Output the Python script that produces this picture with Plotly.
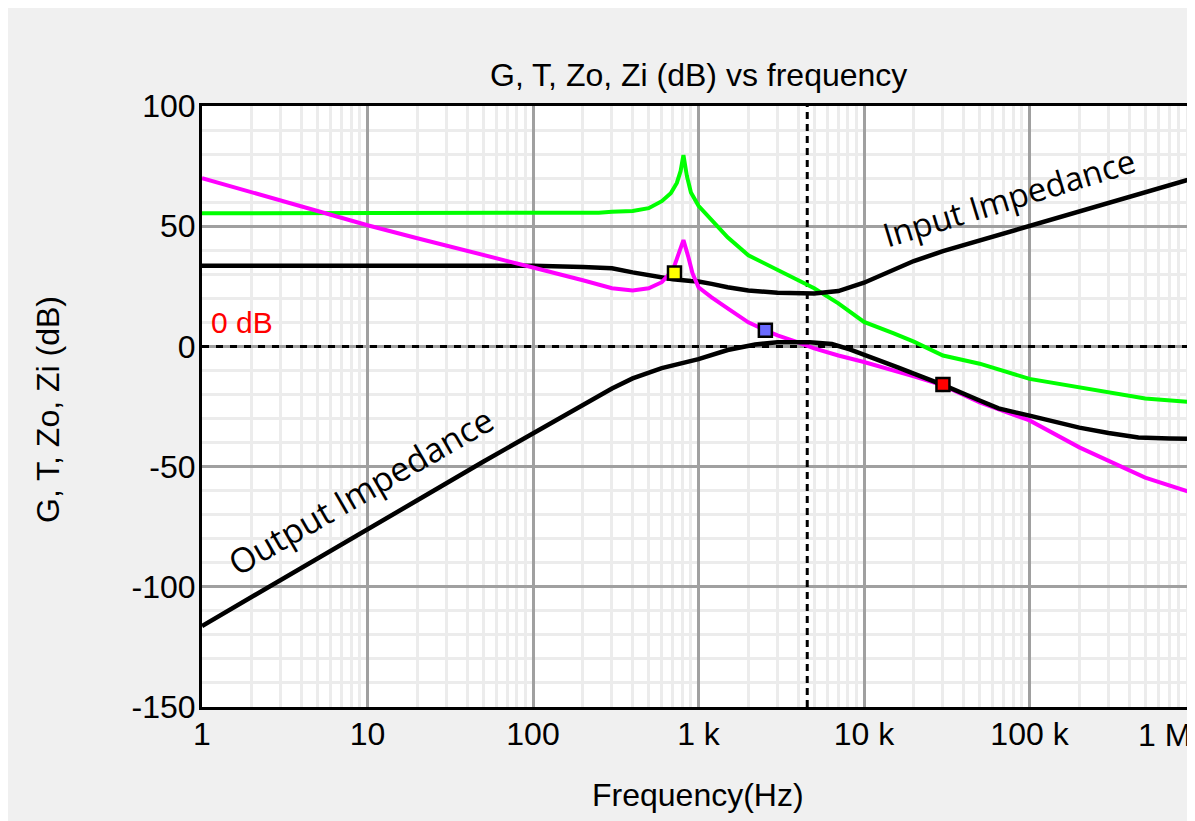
import plotly.graph_objects as go

# ---------------- data ----------------
freq_G = [1, 10, 100, 250, 300, 400, 500, 600, 680, 740, 780, 811, 850, 900, 1000,
          1500, 2000, 3000, 5000, 7000, 10e3, 15e3, 20e3, 30e3, 50e3, 100e3, 200e3,
          300e3, 500e3, 1e6]
db_G = [55.4, 55.4, 55.4, 55.6, 56.0, 56.3, 57.5, 60.4, 63.7, 68.0, 73.0, 79.6, 71.0,
        64.0, 58.5, 45.4, 37.9, 31.7, 24.2, 17.9, 10.2, 5.5, 2.0, -3.8, -7.2, -13.5,
        -17.0, -19.2, -21.7, -23.3]

freq_T = [1, 2, 3, 5, 10, 20, 30, 50, 100, 200, 300, 400, 500, 600, 700, 760, 811,
          870, 920, 1000, 1200, 1500, 2000, 2540, 3000, 4000, 5000, 7000, 10e3, 20e3,
          30e3, 50e3, 100e3, 200e3, 300e3, 500e3, 1e6]
db_T = [70.0, 64.0, 60.6, 56.0, 50.4, 45.0, 42.0, 38.0, 32.8, 27.5, 24.2, 23.3, 24.2,
        26.7, 31.7, 38.7, 44.2, 37.0, 30.4, 24.6, 20.4, 15.8, 10.0, 6.7, 4.6, 1.7,
        -0.8, -3.8, -6.5, -12.5, -16.2, -23.3, -30.8, -42.0, -47.5, -54.6, -61.3]

freq_Zi = [1, 10, 100, 200, 300, 400, 500, 600, 700, 900, 1000, 1200, 1500, 2000, 3000,
           5000, 7000, 10e3, 15e3, 20e3, 30e3, 50e3, 100e3, 200e3, 300e3, 500e3, 1e6]
db_Zi = [33.5, 33.5, 33.5, 33.0, 32.5, 30.8, 29.6, 28.3, 27.9, 27.2, 27.0, 26.0, 24.6,
         23.3, 22.3, 22.0, 23.0, 26.5, 32.0, 35.5, 39.6, 44.1, 50.1, 56.1, 59.7, 64.1,
         70.1]

freq_Zo = [1, 2, 5, 10, 20, 50, 100, 200, 300, 400, 600, 1000, 1500, 2200, 3000, 4700,
           6400, 8200, 10e3, 16e3, 20e3, 30e3, 50e3, 65e3, 100e3, 200e3, 300e3, 455e3,
           700e3, 1e6]
db_Zo = [-116.3, -104.3, -88.3, -76.0, -64.0, -48.0, -36.0, -24.0, -17.5, -13.3, -9.0,
         -5.3, -1.5, 0.8, 1.7, 1.7, 1.0, -1.2, -3.3, -8.7, -11.3, -16.0, -22.5, -25.8,
         -28.8, -33.8, -36.0, -37.9, -38.3, -38.5]

marker_freq = [716, 2535, 30000]
marker_db = [30.5, 6.7, -15.8]
marker_colors = ["#ffff00", "#6a6aff", "#ff0000"]

cursor_freq = 4540
ref_db = 0

x_tickvals = [1, 10, 100, 1e3, 1e4, 1e5, 1e6]
x_ticktext = ["1", "10", "100", "1 k", "10 k", "100 k", ""]
x_last_label = "1 M"          # drawn separately so it stays inside the page
x_minor = [m * 10 ** d for d in range(6) for m in range(2, 10)]
y_tickvals = [-150, -100, -50, 0, 50, 100]
y_ticktext = ["-150", "-100", "-50", "0", "50", "100"]

# ---------------- figure ----------------
OFF = 8                      # page body margin
W, H = 1195 - OFF, 821 - OFF
L, R, T, B = 202 - OFF, 0, 106 - OFF, 821 - 707
pw, ph = W - L - R, H - T - B

PIX = "Liberation Sans"

fig = go.Figure()

# reference lines (0 dB and cursor)
fig.add_trace(go.Scatter(x=[1, 1e6], y=[ref_db, ref_db], mode="lines",
                         line=dict(color="black", width=3, dash="7px,7px"),
                         hoverinfo="skip", showlegend=False))
fig.add_trace(go.Scatter(x=[cursor_freq, cursor_freq], y=[-150, 100], mode="lines",
                         line=dict(color="black", width=3, dash="7px,5px"),
                         hoverinfo="skip", showlegend=False))

fig.add_trace(go.Scatter(x=freq_G, y=db_G, mode="lines", name="G",
                         line=dict(color="#00ff00", width=4)))
fig.add_trace(go.Scatter(x=freq_Zi, y=db_Zi, mode="lines", name="Zi",
                         line=dict(color="#000000", width=4.5)))
fig.add_trace(go.Scatter(x=freq_T, y=db_T, mode="lines", name="T",
                         line=dict(color="#ff00ff", width=4)))
fig.add_trace(go.Scatter(x=freq_Zo, y=db_Zo, mode="lines", name="Zo",
                         line=dict(color="#000000", width=4.5)))

fig.add_trace(go.Scatter(x=marker_freq, y=marker_db, mode="markers",
                         marker=dict(symbol="square", size=13, color=marker_colors,
                                     line=dict(color="black", width=2.5)),
                         showlegend=False))

fig.update_xaxes(
    type="log", range=[0, 6], automargin=False,
    tickmode="array", tickvals=x_tickvals, ticktext=x_ticktext,
    ticks="", ticklabelstandoff=-3, ticklabeloverflow="allow",
    tickfont=dict(family=PIX, size=32, color="black"),
    showgrid=True, gridcolor="#a0a0a0", gridwidth=2.5,
    minor=dict(tickmode="array", tickvals=x_minor, showgrid=True,
               gridcolor="#ececec", gridwidth=2.5, ticks=""),
    showline=True, linecolor="black", linewidth=3, mirror=True,
    zeroline=False, fixedrange=True,
)
fig.update_yaxes(
    range=[-150, 100], automargin=False,
    tickmode="array", tickvals=y_tickvals, ticktext=y_ticktext,
    ticks="", ticklabelstandoff=-3, ticklabeloverflow="allow",
    tickfont=dict(family=PIX, size=32, color="black"),
    showgrid=True, gridcolor="#a0a0a0", gridwidth=2.5,
    minor=dict(dtick=10, showgrid=True, gridcolor="#ececec", gridwidth=2.5, ticks=""),
    showline=True, linecolor="black", linewidth=3, mirror=False,
    zeroline=False, fixedrange=True,
)

def px_x(p):  # window pixel -> paper x
    return (p - OFF - L) / pw

def px_y(p):  # window pixel -> paper y
    return (H - B - (p - OFF)) / ph

annotations = [
    dict(text="G, T, Zo, Zi (dB) vs frequency", xref="paper", yref="paper",
         x=0.5, y=px_y(75), xanchor="center", yanchor="middle", showarrow=False,
         font=dict(family=PIX, size=32, color="black")),
    dict(text="Frequency(Hz)", xref="paper", yref="paper",
         x=px_x(698), y=px_y(795), xanchor="center", yanchor="middle", showarrow=False,
         font=dict(family=PIX, size=32, color="black")),
    dict(text="G, T, Zo, Zi (dB)", xref="paper", yref="paper",
         x=px_x(48), y=px_y(410), xanchor="center", yanchor="middle", showarrow=False,
         textangle=-90, font=dict(family=PIX, size=32, color="black")),
    dict(text=x_last_label, xref="paper", yref="paper",
         x=px_x(1193), y=px_y(735), xanchor="right", yanchor="middle", showarrow=False,
         font=dict(family=PIX, size=32, color="black")),
    dict(text="0 dB", xref="paper", yref="y", x=0, y=10, xshift=7,
         xanchor="left", yanchor="middle", showarrow=False,
         font=dict(family=PIX, size=30, color="#ff0000")),
    dict(text="Input Impedance", xref="x", yref="y", x=4.876, y=62,
         xanchor="center", yanchor="middle", showarrow=False, textangle=-17,
         font=dict(family="Open Sans", size=33, color="black")),
    dict(text="Output Impedance", xref="x", yref="y", x=0.955, y=-60,
         xanchor="center", yanchor="middle", showarrow=False, textangle=-30,
         font=dict(family="Open Sans", size=34, color="black")),
]

fig.update_layout(
    width=W, height=H,
    margin=dict(l=L, r=R, t=T, b=B, pad=0, autoexpand=False),
    paper_bgcolor="#f0f0f0", plot_bgcolor="white",
    showlegend=False,
    annotations=annotations,
    font=dict(family=PIX, color="black"),
)

fig.write_html(
    "out.html",
    post_script="document.documentElement.style.overflow='hidden';"
                "document.body.style.overflow='hidden';",
)
